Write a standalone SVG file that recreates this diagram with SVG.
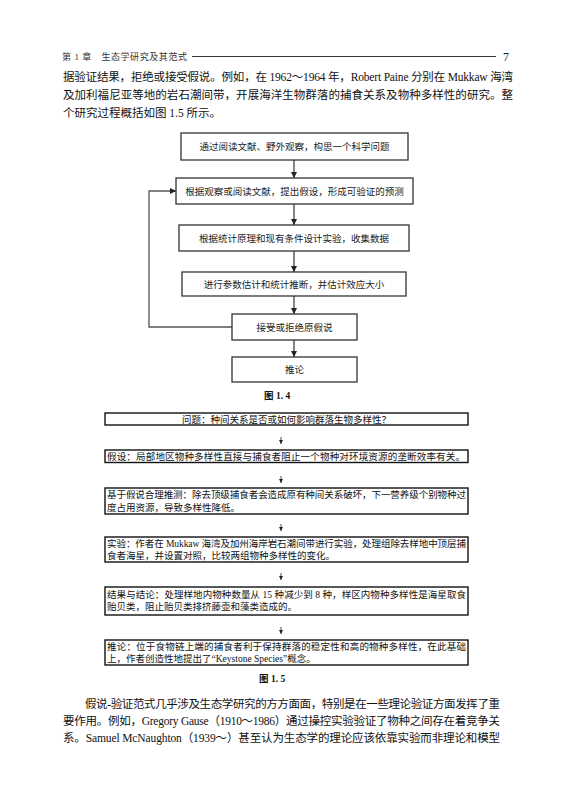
<svg xmlns="http://www.w3.org/2000/svg" width="564" height="786" viewBox="0 0 564 786">
<defs>
<marker id="ah" viewBox="0 0 8 8" refX="8" refY="4" markerWidth="6" markerHeight="6" orient="auto" markerUnits="userSpaceOnUse"><path d="M0,0 L8,4 L0,8 Z" fill="#222"/></marker>
<marker id="ah2" viewBox="0 0 8 8" refX="8" refY="4" markerWidth="4" markerHeight="4" orient="auto" markerUnits="userSpaceOnUse"><path d="M0,0 L8,4 L0,8 Z" fill="#222"/></marker>
</defs>
<style>
.body{font-family:"Liberation Serif","Noto Sans CJK SC",serif;font-size:11.5px;fill:#111}
.hdr{font-family:"Liberation Serif","Noto Sans CJK SC",serif;font-size:9px;fill:#333}
.b4{fill:#fff;stroke:#333;stroke-width:1.3}
.t4{font-family:"Noto Sans CJK SC",sans-serif;font-size:9.5px;fill:#222;text-anchor:middle}
.b5{fill:#fff;stroke:#111;stroke-width:1.4}
.t5{font-family:"Liberation Serif","Noto Sans CJK SC",serif;font-size:9.5px;fill:#111}
.cap{font-family:"Liberation Serif","Noto Sans CJK SC",serif;font-size:9.5px;font-weight:bold;fill:#111}
.c4{fill:none;stroke:#333;stroke-width:1.2}
.c4l{fill:none;stroke:#555;stroke-width:1.3}
.c5{fill:none;stroke:#222;stroke-width:0.8}
</style>
<rect width="564" height="786" fill="#fff"/>
<g id="header">
<text class="hdr" x="62" y="60" textLength="125" lengthAdjust="spacing">第 1 章　生态学研究及其范式</text>
<line x1="192" y1="56.5" x2="496" y2="56.5" stroke="#222" stroke-width="0.9"/>
<text x="503" y="61" style="font-family:'Liberation Serif',serif;font-size:12px;fill:#222">7</text>
</g>
<g id="para-top">
<text class="body" x="63" y="81" textLength="450" lengthAdjust="spacing">据验证结果，拒绝或接受假说。例如，在 1962～1964 年，Robert Paine 分别在 Mukkaw 海湾</text>
<text class="body" x="63" y="99" textLength="450" lengthAdjust="spacing">及加利福尼亚等地的岩石潮间带，开展海洋生物群落的捕食关系及物种多样性的研究。整</text>
<text class="body" x="63" y="117">个研究过程概括如图 1.5 所示。</text>
</g>
<g id="fig14-connectors">
<line class="c4" x1="294" y1="160" x2="294" y2="178" marker-end="url(#ah)"/>
<line class="c4" x1="294" y1="204" x2="294" y2="225" marker-end="url(#ah)"/>
<line class="c4" x1="294" y1="251" x2="294" y2="272" marker-end="url(#ah)"/>
<line class="c4" x1="294" y1="296" x2="294" y2="314" marker-end="url(#ah)"/>
<line class="c4" x1="294" y1="340" x2="294" y2="357" marker-end="url(#ah)"/>
<polyline class="c4l" points="232,327 149,327 149,191 176,191" marker-end="url(#ah)"/>
</g>
<g id="n4-1"><rect class="b4" x="181" y="133" width="227" height="27"/><text class="t4" x="294.5" y="150">通过阅读文献、野外观察，构思一个科学问题</text></g>
<g id="n4-2"><rect class="b4" x="176" y="178" width="237" height="26"/><text class="t4" x="294.5" y="194.5">根据观察或阅读文献，提出假设，形成可验证的预测</text></g>
<g id="n4-3"><rect class="b4" x="179" y="225" width="230" height="26"/><text class="t4" x="294" y="241.5">根据统计原理和现有条件设计实验，收集数据</text></g>
<g id="n4-4"><rect class="b4" x="182" y="272" width="224" height="24"/><text class="t4" x="294" y="287.5">进行参数估计和统计推断，并估计效应大小</text></g>
<g id="n4-5"><rect class="b4" x="232" y="314" width="125" height="26"/><text class="t4" x="294.5" y="330.5">接受或拒绝原假说</text></g>
<g id="n4-6"><rect class="b4" x="232" y="357" width="125" height="25"/><text class="t4" x="294.5" y="373">推论</text></g>
<text class="cap" x="264" y="399">图 1. 4</text>
<g id="fig15-connectors">
<line class="c5" x1="281" y1="437" x2="281" y2="444" marker-end="url(#ah2)"/>
<line class="c5" x1="281" y1="476" x2="281" y2="483" marker-end="url(#ah2)"/>
<line class="c5" x1="281" y1="524" x2="281" y2="531" marker-end="url(#ah2)"/>
<line class="c5" x1="281" y1="573" x2="281" y2="580" marker-end="url(#ah2)"/>
<line class="c5" x1="281" y1="627" x2="281" y2="634" marker-end="url(#ah2)"/>
</g>
<g id="n5-1"><rect class="b5" x="105" y="413" width="363" height="12"/><text class="t5" x="286.5" y="422.5" text-anchor="middle">问题：种间关系是否或如何影响群落生物多样性？</text></g>
<g id="n5-2"><rect class="b5" x="105" y="450" width="363" height="12.5"/><text class="t5" x="107" y="459.5" textLength="358" lengthAdjust="spacing">假设：局部地区物种多样性直接与捕食者阻止一个物种对环境资源的垄断效率有关。</text></g>
<g id="n5-3"><rect class="b5" x="105" y="488" width="363" height="26"/><text class="t5" x="107" y="498" textLength="359" lengthAdjust="spacing">基于假说合理推测：除去顶级捕食者会造成原有种间关系破坏，下一营养级个别物种过</text><text class="t5" x="107" y="510.5">度占用资源，导致多样性降低。</text></g>
<g id="n5-4"><rect class="b5" x="105" y="537" width="363" height="25"/><text class="t5" x="107" y="547" textLength="359" lengthAdjust="spacing">实验：作者在 Mukkaw 海湾及加州海岸岩石潮间带进行实验，处理组除去样地中顶层捕</text><text class="t5" x="107" y="559">食者海星，并设置对照，比较两组物种多样性的变化。</text></g>
<g id="n5-5"><rect class="b5" x="105" y="587" width="363" height="28"/><text class="t5" x="107" y="598" textLength="359" lengthAdjust="spacing">结果与结论：处理样地内物种数量从 15 种减少到 8 种，样区内物种多样性是海星取食</text><text class="t5" x="107" y="610">贻贝类，阻止贻贝类排挤藤壶和藻类造成的。</text></g>
<g id="n5-6"><rect class="b5" x="105" y="640" width="363" height="25"/><text class="t5" x="107" y="650" textLength="359" lengthAdjust="spacing">推论：位于食物链上端的捕食者利于保持群落的稳定性和高的物种多样性，在此基础</text><text class="t5" x="107" y="662">上，作者创造性地提出了“Keystone Species”概念。</text></g>
<text class="cap" x="259" y="682">图 1. 5</text>
<g id="para-bottom">
<text class="body" x="85" y="708" textLength="415" lengthAdjust="spacing">假说-验证范式几乎涉及生态学研究的方方面面，特别是在一些理论验证方面发挥了重</text>
<text class="body" x="63" y="725" textLength="437" lengthAdjust="spacing">要作用。例如，Gregory Gause（1910～1986）通过操控实验验证了物种之间存在着竞争关</text>
<text class="body" x="63" y="742" textLength="437" lengthAdjust="spacing">系。Samuel McNaughton（1939～）甚至认为生态学的理论应该依靠实验而非理论和模型</text>
</g>
</svg>
